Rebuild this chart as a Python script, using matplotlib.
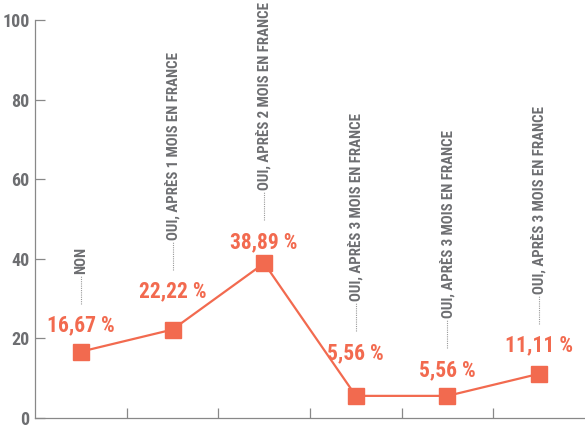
import matplotlib
matplotlib.use("Agg")
import matplotlib.pyplot as plt

categories = ["NON",
              "OUI, APRÈS 1 MOIS EN FRANCE",
              "OUI, APRÈS 2 MOIS EN FRANCE",
              "OUI, APRÈS 3 MOIS EN FRANCE",
              "OUI, APRÈS 3 MOIS EN FRANCE",
              "OUI, APRÈS 3 MOIS EN FRANCE"]
values = [16.67, 22.22, 38.89, 5.56, 5.56, 11.11]
value_labels = ["16,67 %", "22,22 %", "38,89 %", "5,56 %", "5,56 %", "11,11 %"]
y_ticks = [0, 20, 40, 60, 80, 100]

# how far above the marker each value label sits, in pixels
label_lift_px = [26, 38, 21, 43, 26, 28]

orange = "#F26A4F"
grey = "#6D6E71"
plt.rcParams['font.family'] = ['Roboto Condensed', 'DejaVu Sans']

fig = plt.figure(figsize=(5.85, 4.26), dpi=100)
ax = fig.add_axes([35 / 585, 8 / 426, 550 / 585, 398 / 426])

x = list(range(len(values)))
ax.plot(x, values, color=orange, lw=1.6, marker='s', markersize=12, zorder=3)

ax.set_xlim(-0.5, len(values) - 0.5)
ax.set_ylim(0, 100)

px = 100 / 398  # data units per pixel in y

for i, v in enumerate(values):
    yc = v + label_lift_px[i] * px
    ax.text(i, yc, value_labels[i], color=orange, fontsize=15.5, fontweight='bold',
            ha='center', va='center')
    ax.plot([i, i], [yc + 22 * px, yc + 50 * px], color='#999999', lw=0.8,
            linestyle=(0, (1, 1)))
    ax.text(i, yc + 52 * px, categories[i], color=grey, fontsize=10.7, fontweight='bold',
            rotation=90, ha='center', va='bottom')

ax.set_yticks(y_ticks)
ax.set_yticklabels([str(t) for t in y_ticks])
ax.set_xticks([i + 0.5 for i in range(len(values) - 1)])
ax.set_xticklabels([])

for s in ['top', 'right']:
    ax.spines[s].set_visible(False)
for s in ['left', 'bottom']:
    ax.spines[s].set_color('#888888')
    ax.spines[s].set_linewidth(0.9)

ax.tick_params(axis='both', direction='in', length=7, width=0.9, color='#888888')
ax.tick_params(axis='y', labelsize=13, labelcolor=grey, pad=4)
for lab in ax.get_yticklabels():
    lab.set_fontweight('bold')

fig.savefig("out.png", dpi=100)
